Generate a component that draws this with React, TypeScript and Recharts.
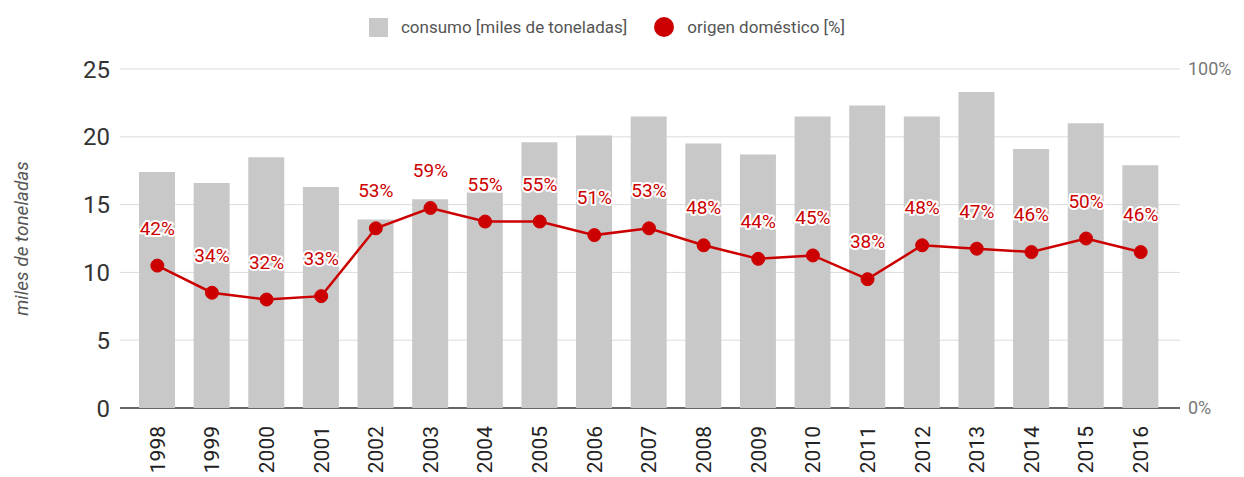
import {
  ComposedChart,
  Bar,
  Line,
  XAxis,
  YAxis,
  CartesianGrid,
  Legend,
  LabelList,
} from "recharts";

const years = [
  "1998", "1999", "2000", "2001", "2002", "2003", "2004", "2005", "2006", "2007",
  "2008", "2009", "2010", "2011", "2012", "2013", "2014", "2015", "2016",
];
const consumo = [
  17.4, 16.6, 18.5, 16.3, 13.9, 15.4, 15.9, 19.6, 20.1, 21.5,
  19.5, 18.7, 21.5, 22.3, 21.5, 23.3, 19.1, 21.0, 17.9,
];
const origenDomestico = [
  42, 34, 32, 33, 53, 59, 55, 55, 51, 53, 48, 44, 45, 38, 48, 47, 46, 50, 46,
];
const leftTicks = [0, 5, 10, 15, 20, 25];
const rightTicks = [0, 100];

const data = years.map((year, i) => ({
  year,
  consumo: consumo[i],
  origen: origenDomestico[i],
}));

const RED = "#cc0000";
const GREY = "#c8c8c8";
const FONT = "Roboto, 'Liberation Sans', Arial, sans-serif";

interface ITickProps {
  x: number;
  y: number;
  payload: { value: string };
}

const YearTick = ({ x, y, payload }: ITickProps) => (
  <text
    x={x}
    y={y + 10}
    transform={`rotate(-90, ${x}, ${y + 10})`}
    textAnchor="end"
    dy="0.35em"
    fill="#222"
    fontSize={21}
    fontFamily={FONT}
  >
    {payload.value}
  </text>
);

interface ILabelProps {
  x?: number;
  y?: number;
  value?: number;
}

const PctLabel = ({ x = 0, y = 0, value }: ILabelProps) => (
  <text
    x={x}
    y={y - 31}
    textAnchor="middle"
    fill={RED}
    stroke="#fff"
    strokeWidth={4}
    paintOrder="stroke"
    strokeLinejoin="round"
    fontSize={19}
    fontFamily={FONT}
  >
    {`${value}%`}
  </text>
);

const ChartLegend = () => (
  <div
    style={{
      display: "flex",
      justifyContent: "center",
      alignItems: "center",
      fontFamily: FONT,
      fontSize: 17,
      color: "#555",
      height: 30,
      paddingRight: 30,
    }}
  >
    <span style={{ width: 19, height: 19, background: GREY, marginRight: 13 }} />
    <span style={{ marginRight: 27 }}>consumo [miles de toneladas]</span>
    <span
      style={{
        width: 20,
        height: 20,
        borderRadius: "50%",
        background: RED,
        marginRight: 13,
      }}
    />
    <span>origen doméstico [%]</span>
  </div>
);

interface IGridLineProps {
  x1: number;
  x2: number;
  y1: number;
  y2: number;
}

// the zero line is dark, the others light grey
const GridLine = (props: IGridLineProps) => {
  const { x1, x2, y1, y2 } = props;
  const isBase = Math.abs(y1 - 408) < 2;
  return (
    <line
      x1={x1}
      x2={x2}
      y1={y1}
      y2={y2}
      stroke={isBase ? "#333" : "#dcdcdc"}
      strokeWidth={isBase ? 1.5 : 1}
    />
  );
};

export default function App() {
  return (
    <div style={{ position: "absolute", left: 0, top: 0, background: "#fff" }}>
      <ComposedChart
        width={1244}
        height={477}
        data={data}
        margin={{ top: 39, right: 0, bottom: 9, left: 0 }}
        barSize={36}
      >
        <Legend
          verticalAlign="top"
          content={<ChartLegend />}
          wrapperStyle={{ top: 12 }}
        />
        <CartesianGrid
          yAxisId="left"
          vertical={false}
          horizontal={(p: IGridLineProps) => <GridLine {...p} />}
        />
        <XAxis
          dataKey="year"
          axisLine={false}
          tickLine={false}
          interval={0}
          height={60}
          padding={{ left: 10, right: 12 }}
          tick={(p: ITickProps) => <YearTick {...p} />}
        />
        <YAxis
          yAxisId="left"
          orientation="left"
          width={120}
          domain={[0, 25]}
          ticks={leftTicks}
          axisLine={false}
          tickLine={false}
          tickMargin={4}
          tick={{ fill: "#333", fontSize: 24, fontFamily: FONT }}
          label={{
            value: "miles de toneladas",
            angle: -90,
            position: "insideLeft",
            offset: 21,
            style: {
              textAnchor: "middle",
              fill: "#555",
              fontSize: 19,
              fontStyle: "italic",
              fontFamily: FONT,
            },
          }}
        />
        <YAxis
          yAxisId="right"
          orientation="right"
          width={64}
          domain={[0, 100]}
          ticks={rightTicks}
          axisLine={false}
          tickLine={false}
          tickFormatter={(v: number) => `${v}%`}
          tick={{ fill: "#777", fontSize: 18, fontFamily: FONT, textAnchor: "start" }}
        />
        <Bar
          yAxisId="left"
          dataKey="consumo"
          fill={GREY}
          isAnimationActive={false}
        />
        <Line
          yAxisId="right"
          dataKey="origen"
          stroke={RED}
          strokeWidth={2.5}
          dot={{ r: 6.5, fill: RED, stroke: RED, strokeWidth: 1 }}
          activeDot={false}
          isAnimationActive={false}
        >
          <LabelList dataKey="origen" content={<PctLabel />} />
        </Line>
      </ComposedChart>
    </div>
  );
}
